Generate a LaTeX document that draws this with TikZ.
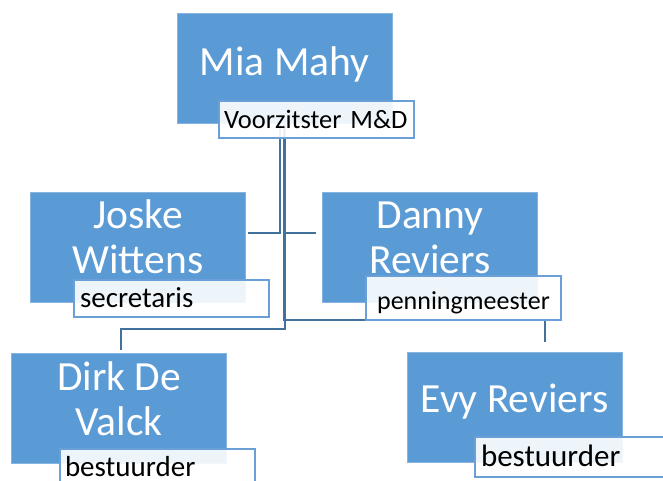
\documentclass[tikz,border=0pt]{standalone}
\usepackage{fontspec}
\setmainfont{Carlito}
\usetikzlibrary{backgrounds}
\definecolor{boxblue}{HTML}{5B9BD5}
\definecolor{linkblue}{HTML}{41719C}
\definecolor{roleline}{HTML}{6A9FD8}
\begin{document}
\begin{tikzpicture}[x=1pt,y=-1pt,
    person/.style={fill=boxblue,draw=boxblue!75!white,line width=0.8pt,text=white,
      minimum width=215pt,minimum height=110pt,inner sep=0pt,align=center,
      font=\fontsize{41.5}{45}\selectfont},
    role/.style={draw=roleline,line width=2pt,fill=white,fill opacity=0.9,text opacity=1,
      anchor=north west,inner xsep=5pt,inner ysep=0pt,text width=185pt,align=left,
      text height=27pt,text depth=10pt,font=\fontsize{27}{30}\selectfont},
    link/.style={draw=linkblue,line width=2pt}]
      \useasboundingbox (0,0) rectangle (663,480);

      % top
      \node[person,text height=20pt,text depth=7pt] (mia) at (284.5,68.5) {Mia Mahy};
      \node[role,font=\fontsize{26.5}{30}\selectfont] (miaRole) at (218,100) {Voorzitster M\&D};

      % second row
      \node[person,text height=59pt,text depth=7pt] (joske) at (138,247) {Joske\\Wittens};
      \node[role,font=\fontsize{29}{32}\selectfont] (joskeRole) at (73,279) {\hspace*{1pt}secretaris};
      \node[person,text height=59pt,text depth=7pt] (danny) at (430,247) {Danny\\Reviers};
      \node[role,align=center,text height=33pt,text depth=11pt,
        font=\fontsize{26}{30}\selectfont] (dannyRole) at (365,275) {penningmeester};

      % third row
      \node[person,text height=61pt,text depth=7pt] (dirk) at (119,408) {Dirk De\\Valck};
      \node[role,text depth=11pt,font=\fontsize{29}{32}\selectfont] (dirkRole) at (59,448) {bestuurder};
      \node[person,text height=17pt,text depth=7pt] (evy) at (514.5,407) {Evy Reviers};
      \node[role,text height=29pt,text depth=11pt,
        font=\fontsize{31}{34}\selectfont] (evyRole) at (474,436) {\hspace*{1pt}bestuurder};

      % lines
      \begin{scope}[on background layer]
        \draw[link] ([xshift=-4.5pt]mia.south) |- ([xshift=2pt,yshift=14pt]joske.east);
        \draw[link] ([xshift=-0.5pt]mia.south) |- ([xshift=-6pt,yshift=14pt]danny.west);
        \draw[link] ([xshift=-0.5pt]mia.south) |- ([yshift=1pt]dannyRole.south)
          -| ([xshift=30.5pt,yshift=10pt]evy.north);
        \draw[link] ([xshift=0.5pt]mia.south) |- ([yshift=-11pt]joskeRole.south)
          -| ([xshift=2pt,yshift=3pt]dirk.north);
      \end{scope}
    \end{tikzpicture}
\end{document}
